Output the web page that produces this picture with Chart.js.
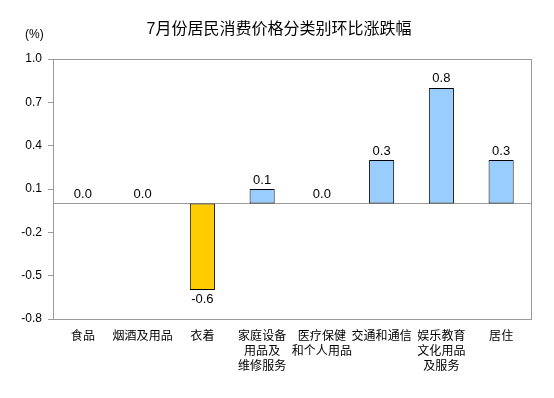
<!DOCTYPE html>
<html>
<head>
<meta charset="utf-8">
<script src="https://cdn.jsdelivr.net/npm/chart.js@4/dist/chart.umd.min.js"></script>
<style>
  html, body { margin: 0; padding: 0; background: #fff; }
  #wrap { width: 554px; height: 398px; }
</style>
</head>
<body>
<div id="wrap"><canvas id="chart" width="554" height="398"></canvas></div>
<script>
// --- data ---
const categories = [
  '食品',
  '烟酒及用品',
  '衣着',
  ['家庭设备', '用品及', '维修服务'],
  ['医疗保健', '和个人用品'],
  '交通和通信',
  ['娱乐教育', '文化用品', '及服务'],
  '居住'
];
const values = [0.0, 0.0, -0.6, 0.1, 0.0, 0.3, 0.8, 0.3];
const yTicks = [-0.8, -0.5, -0.2, 0.1, 0.4, 0.7, 1.0];
const titleText = '7月份居民消费价格分类别环比涨跌幅';
const unitText = '(%)';

const FONT = "'Liberation Sans', Arial, 'Noto Sans CJK SC', sans-serif";
const GRAY = '#9a9a9a';

// frame, zero line, title, unit label and value labels
const extras = {
  id: 'extras',
  beforeDatasetsDraw(chart) {
    const { ctx, chartArea: a, scales: { y } } = chart;
    ctx.save();
    ctx.strokeStyle = GRAY;
    ctx.lineWidth = 1;
    ctx.strokeRect(Math.round(a.left) + 0.5, Math.round(a.top) + 0.5,
      Math.round(a.right - a.left), Math.round(a.bottom - a.top));
    const y0 = Math.round(y.getPixelForValue(0)) + 0.5;
    ctx.beginPath();
    ctx.moveTo(a.left, y0);
    ctx.lineTo(a.right, y0);
    ctx.stroke();
    ctx.restore();
  },
  afterDatasetsDraw(chart) {
    const { ctx } = chart;
    ctx.save();
    ctx.fillStyle = '#000';
    ctx.textBaseline = 'middle';

    ctx.font = '16px ' + FONT;
    ctx.textAlign = 'center';
    ctx.fillText(titleText, 279, 30);

    ctx.font = '13px ' + FONT;
    chart.getDatasetMeta(0).data.forEach((bar, i) => {
      const v = values[i];
      const yy = v < 0 ? bar.y + 9 : bar.y - 9;
      ctx.fillText(v.toFixed(1), bar.x, yy);
    });

    ctx.font = '12px ' + FONT;
    ctx.textAlign = 'left';
    ctx.fillText(unitText, 25, 35);
    ctx.restore();
  }
};

new Chart(document.getElementById('chart').getContext('2d'), {
  type: 'bar',
  data: {
    labels: categories,
    datasets: [{
      data: values,
      backgroundColor: values.map(v => v < 0 ? '#ffcc00' : '#99ccff'),
      borderColor: '#000',
      borderWidth: 1,
      borderSkipped: false,
      categoryPercentage: 1,
      barPercentage: 0.42
    }]
  },
  options: {
    responsive: false,
    animation: false,
    layout: { padding: { left: 0, right: 23, top: 59, bottom: 0 } },
    plugins: {
      legend: { display: false },
      tooltip: { enabled: false },
      title: { display: false }
    },
    scales: {
      x: {
        grid: { display: false, drawTicks: false },
        border: { display: true, color: GRAY },
        ticks: {
          color: '#000',
          padding: 10,
          maxRotation: 0,
          autoSkip: false,
          font: { family: FONT, size: 12, lineHeight: 1.25 }
        },
        afterFit(scale) { scale.height = 79; }
      },
      y: {
        min: -0.8,
        max: 1.0,
        afterBuildTicks(scale) { scale.ticks = yTicks.map(v => ({ value: v })); },
        grid: { drawOnChartArea: false, drawTicks: true, tickLength: 5, color: GRAY },
        border: { display: true, color: GRAY },
        ticks: {
          color: '#000',
          padding: 6,
          font: { family: FONT, size: 12 },
          callback: v => Number(v).toFixed(1)
        },
        afterFit(scale) { scale.width = 53; }
      }
    }
  },
  plugins: [extras]
});
</script>
</body>
</html>
